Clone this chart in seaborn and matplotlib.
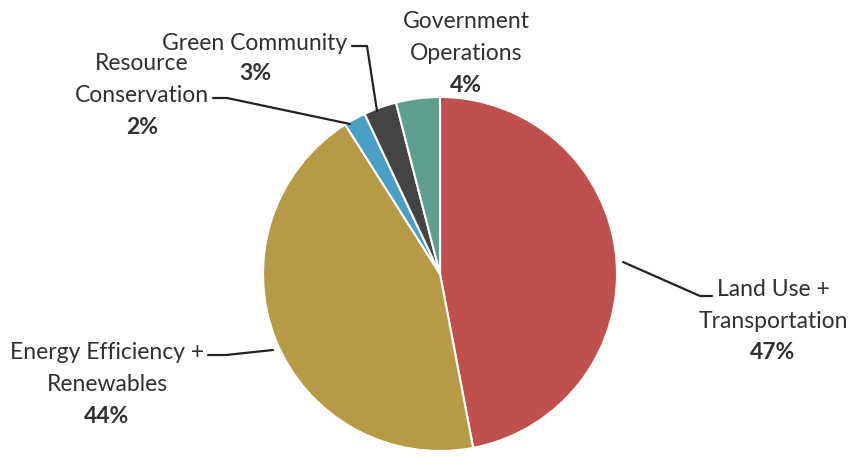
import matplotlib
matplotlib.use("Agg")
import matplotlib.pyplot as plt
import seaborn as sns

# chart data
categories = ["Land Use +\nTransportation", "Energy Efficiency +\nRenewables",
              "Resource\nConservation", "Green Community", "Government\nOperations"]
shares = [47, 44, 2, 3, 4]
pct_labels = ["47%", "44%", "2%", "3%", "4%"]
colors = ["#C0504D", "#B79A45", "#4A9FC4", "#444444", "#5E9E8E"]

sns.set_theme(style="white")
plt.rcParams["font.family"] = ["Lato", "DejaVu Sans"]

W, H = 853, 460
fig = plt.figure(figsize=(W / 100, H / 100), dpi=100)
ax = fig.add_axes([0, 0, 1, 1])


def fy(y):
    # positions below are measured from the top of the image
    return H - y


# pie drawn from the data
ax.pie(shares, colors=colors, startangle=90, counterclock=False,
       center=(440, fy(275)), radius=177, frame=True,
       wedgeprops=dict(edgecolor="white", linewidth=1.5))
ax.set_xlim(0, W)
ax.set_ylim(0, H)
ax.set_aspect("equal")
ax.axis("off")

txt_color = "#303030"
fs = 16.5

# label blocks: (x center, y of first line from top)
label_pos = [(773, 289), (107, 353), (142, 63), (255, 43), (466, 22)]
line_step = 32

for name, pct, (x, y) in zip(categories, pct_labels, label_pos):
    lines = name.split("\n")
    for i, ln in enumerate(lines):
        ax.text(x, fy(y + i * line_step), ln, ha="center", va="center",
                fontsize=fs, color=txt_color)
    ax.text(x, fy(y + len(lines) * line_step - (2 if len(lines) == 1 else 0)),
            pct, ha="center", va="center", fontsize=fs, fontweight="bold",
            color=txt_color)

# leader lines
leaders = [
    [(623, 263), (700, 297), (712, 297)],
    [(208, 356), (226, 356), (273, 351)],
    [(213, 99), (227, 99), (350, 125)],
    [(352, 47), (367, 47), (377, 112)],
]
for pts in leaders:
    xs = [p[0] for p in pts]
    ys = [fy(p[1]) for p in pts]
    ax.plot(xs, ys, color="#222222", linewidth=1.6)

fig.savefig("out.png", dpi=100, facecolor="white")
